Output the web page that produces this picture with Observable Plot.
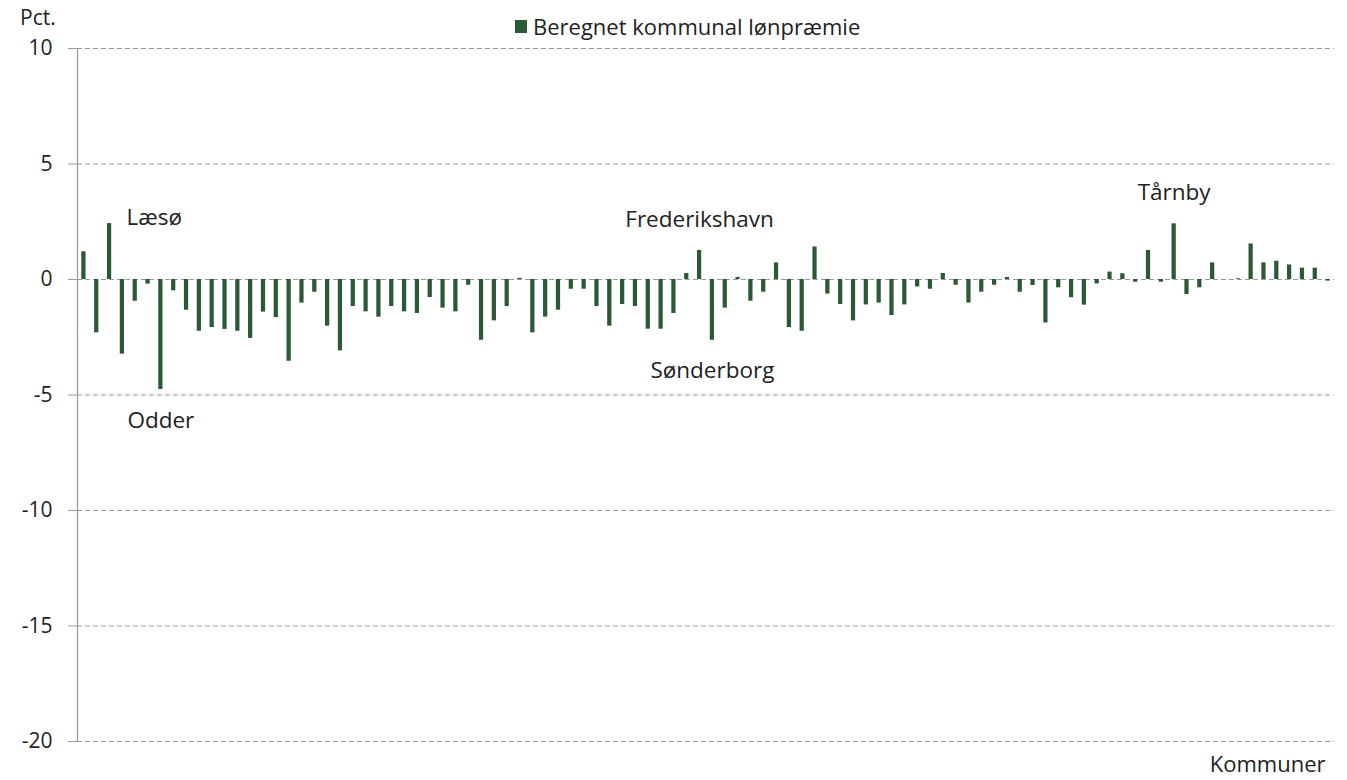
<!DOCTYPE html>
<html><head><meta charset="utf-8">
<script src="https://cdn.jsdelivr.net/npm/d3@7"></script>
<script src="https://cdn.jsdelivr.net/npm/@observablehq/plot@0.6"></script>
<style>
body{margin:0;background:#fff;font-family:"Open Sans",sans-serif;}
#wrap{position:relative;width:1347px;height:780px;}
#header{position:absolute;left:0;top:0;width:1347px;height:40px;}
#pct{position:absolute;left:20px;top:3px;font-size:21px;color:#222;line-height:28px;}
#legend{position:absolute;left:515px;top:12px;font-size:22px;color:#222;display:flex;align-items:center;line-height:28px;}
.sw{display:inline-block;width:12px;height:13px;background:#2b5933;margin-right:6px;}
</style></head><body>
<div id="wrap"><div id="chart"></div><div id="header"><div id="pct"></div><div id="legend"><span class="sw"></span><span id="legtext"></span></div></div></div>
<script>
// Municipal wage premium (pct.), one bar per municipality, in chart order
const values = [
  1.20, -2.31, 2.42, -3.23, -0.94, -0.20, -4.76, -0.49, -1.33, -2.24,
  -2.08, -2.16, -2.24, -2.55, -1.41, -1.65, -3.54, -1.02, -0.55, -2.02,
  -3.09, -1.17, -1.40, -1.63, -1.17, -1.40, -1.47, -0.78, -1.24, -1.40,
  -0.25, -2.63, -1.79, -1.17, 0.05, -2.31, -1.63, -1.33, -0.42, -0.42,
  -1.17, -2.02, -1.08, -1.17, -2.15, -2.15, -1.47, 0.26, 1.26, -2.63,
  -1.24, 0.09, -0.94, -0.55, 0.72, -2.08, -2.24, 1.41, -0.63, -1.08,
  -1.79, -1.10, -1.02, -1.56, -1.10, -0.32, -0.42, 0.26, -0.25, -1.02,
  -0.55, -0.25, 0.09, -0.55, -0.26, -1.88, -0.36, -0.79, -1.11, -0.19,
  0.32, 0.25, -0.12, 1.26, -0.12, 2.41, -0.65, -0.36, 0.72, 0.00,
  0.03, 1.54, 0.72, 0.79, 0.63, 0.49, 0.49, -0.07
];
const yTicks = [10, 5, 0, -5, -10, -15, -20];
const labelNames = ["Læsø", "Odder", "Frederikshavn", "Sønderborg", "Tårnby"];
const labelIndex = [3, 7, 49, 50, 86];
const seriesName = "Beregnet kommunal lønpræmie";
const xLabel = "Kommuner";
const yLabel = "Pct.";

const green = "#2b5933";
document.getElementById("pct").textContent = yLabel;
document.getElementById("legtext").textContent = seriesName;

const data = values.map((v, k) => ({i: k + 1, v}));
const xDomain = [0.5, values.length + 0.5];
const labels = labelNames.map((name, k) => ({name, i: labelIndex[k], v: values[labelIndex[k] - 1]}));
const firstLabel = labels.filter(d => d.name === "Læsø");
const above = labels.filter(d => d.name !== "Læsø" && d.v > 0);
const below = labels.filter(d => d.name !== "Læsø" && d.v < 0);

const chart = Plot.plot({
  width: 1347,
  height: 780,
  marginTop: 48,
  marginBottom: 39,
  marginLeft: 77,
  marginRight: 13,
  style: {fontFamily: "Open Sans, sans-serif", fontSize: "21px", color: "#222", background: "transparent"},
  x: {domain: xDomain, axis: null},
  y: {domain: [-20, 10], ticks: yTicks, label: null},
  marks: [
    Plot.ruleY(yTicks, {stroke: "#9a9a9a", strokeDasharray: "5,3", strokeWidth: 1}),
    Plot.axisY({ticks: yTicks, tickSize: 9, tickPadding: 16, stroke: "#9a9a9a", label: null, fill: "#222", fontSize: 21, tickFormat: d => String(d)}),
    Plot.ruleX([xDomain[0]], {stroke: "#9a9a9a", strokeWidth: 1.3}),
    Plot.rectY(data, {x1: d => d.i - 0.5, x2: d => d.i + 0.5, y: "v", fill: green, insetLeft: 4.3, insetRight: 4.3}),
    Plot.text(firstLabel, {x: "i", y: "v", text: "name", textAnchor: "start", dx: 17, dy: -6, fill: "#222", fontSize: 22.5}),
    Plot.text(above, {x: "i", y: "v", text: "name", dy: -31, fill: "#222", fontSize: 22.5}),
    Plot.text(below, {x: "i", y: "v", text: "name", dy: 31, fill: "#222", fontSize: 22.5}),
    Plot.text([xLabel], {frameAnchor: "bottom-right", textAnchor: "end", lineAnchor: "middle", dx: -9, dy: 23, fill: "#222", fontSize: 22})
  ]
});
document.getElementById("chart").appendChild(chart);
</script>
</body></html>
